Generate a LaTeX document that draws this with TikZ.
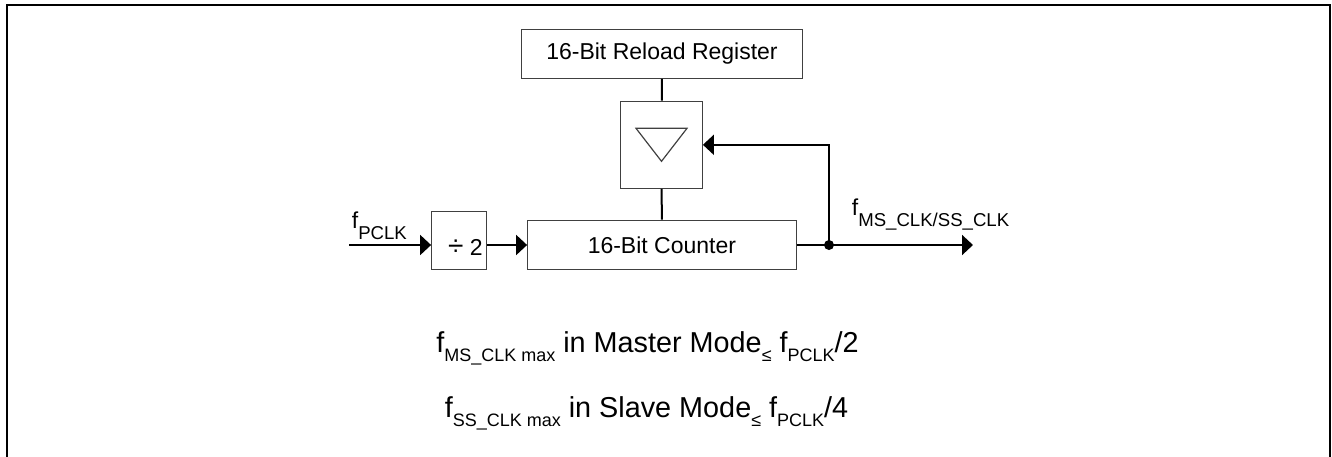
\documentclass[tikz,border=0pt]{standalone}
\usepackage{fontspec}
\setmainfont{Liberation Sans}
\usetikzlibrary{arrows.meta, calc}
\newcommand{\lowsub}[1]{\raisebox{-5.5pt}{\fontsize{9.3}{10}\selectfont #1}}
\newcommand{\limsub}[1]{\raisebox{-4.5pt}{\fontsize{9}{10}\selectfont #1}}

\begin{document}
\begin{tikzpicture}[x=0.5pt, y=-0.5pt, >={Triangle[length=5.5pt, width=10pt]},
  font=\fontsize{11.5}{13}\selectfont,
  block/.style={draw=black!75, line width=0.6pt, inner sep=0pt},
  wire/.style={line width=1pt},
  lbl/.style={inner sep=0pt},
  limit/.style={lbl, anchor=base, font=\fontsize{14.4}{16}\selectfont}]
  \useasboundingbox (0,0) rectangle (1332,456);

  % Frame
  \draw[line width=0.8pt] (7,470) -- (7,5) -- (1330,5) -- (1330,470);

  % Blocks
  \node[block, minimum width=140.3pt, minimum height=24.6pt] (reload) at (662,53.7) {16-Bit Reload Register};
  \node[block, minimum width=40.8pt, minimum height=43.5pt] (cmp) at (661.5,144.8) {};
  \node[block, minimum width=134.2pt, minimum height=24.8pt] (counter) at (661.9,244.9) {16-Bit Counter};
  \node[block, minimum width=27.5pt, minimum height=29pt] (div) at (459.2,240.7) {};
  \node[lbl, anchor=base] (divtxt) at (465.5,255) {{\fontsize{14}{14}\selectfont ÷} 2};

  % Comparator triangle
  \draw[draw=black!75, line width=0.6pt] ($(cmp.center)+(-25.5,-16.5)$) -- ++(51,0)
    -- ($(cmp.center)+(0,16.5)$) -- cycle;

  % Wires
  \coordinate (in) at (349,245);
  \coordinate (jn) at (829,245);
  \coordinate (out) at (973,245);
  \draw[wire] (reload) -- (cmp);
  \draw[wire] (cmp) -- (counter);
  \draw[wire, ->] (in) -- (in -| div.west);
  \draw[wire, ->] (div.east |- in) -- (counter.west |- in);
  \draw[wire] (counter.east |- jn) -- (jn);
  \draw[wire, ->] (jn) -- (out);
  \draw[wire, ->] (jn) |- (cmp.east);
  \fill (jn) circle (2.5pt);

  % Labels
  \node[lbl, anchor=base west] (fin) at (351.5,228.5) {f\lowsub{PCLK}};
  \node[lbl, anchor=base west] (fout) at (851.5,215) {f\lowsub{MS\_CLK/SS\_CLK}};

  % Limits
  \node[limit] (mastermax) at (647.5,352)
    {f\limsub{MS\_CLK max} in Master Mode\limsub{≤} f\limsub{PCLK}/2};
  \node[limit] (slavemax) at (646.5,417)
    {f\limsub{SS\_CLK max} in Slave Mode\limsub{≤} f\limsub{PCLK}/4};
\end{tikzpicture}
\end{document}
